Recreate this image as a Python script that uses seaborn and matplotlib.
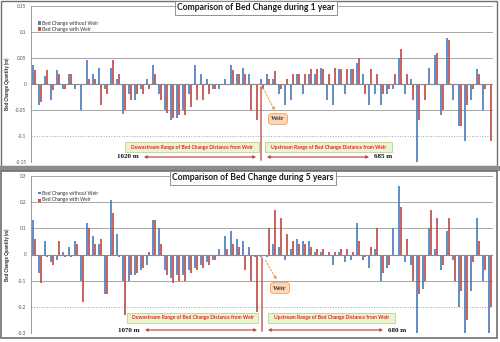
import numpy as np
import pandas as pd
import matplotlib
matplotlib.use("Agg")
import matplotlib.pyplot as plt
import seaborn as sns
from matplotlib.patches import Rectangle, FancyArrowPatch

# ---------------- data ----------------
series_names = ["Bed Change without Weir", "Bed Change with Weir"]

top_without = [0.036, -0.04, 0.015, -0.03, 0.026, -0.01, 0.02, -0.01, -0.05, 0.047,
               0.02, 0.03, -0.01, 0.03, 0.01, -0.057, -0.02, -0.03, -0.01, 0.01,
               0.036, -0.02, -0.05, -0.07, -0.065, -0.05, -0.02, 0.036, 0.02, 0.01,
               -0.01, -0.01, 0.01, 0.036, 0.02, 0.03, 0.02, 0.0, 0.01, 0.02,
               0.01, -0.02, -0.04, -0.03, 0.02, -0.02, 0.02, 0.02, 0.03, -0.03,
               -0.04, 0.028, -0.02, 0.028, 0.04, 0.02, -0.04, -0.02, -0.04, -0.02,
               -0.01, 0.05, -0.02, 0.01, -0.15, 0.0, 0.03, 0.055, -0.06, 0.088,
               -0.03, -0.08, -0.11, -0.03, 0.028, -0.05, 0.0]
top_with = [0.026, -0.035, 0.026, -0.011, 0.02, -0.01, 0.02, 0.0, 0.0, 0.01,
            0.01, -0.04, -0.02, 0.047, 0.02, -0.05, -0.03, -0.02, -0.02, -0.01,
            0.02, -0.03, -0.055, -0.065, -0.06, -0.06, -0.045, -0.03, -0.03, -0.02,
            -0.01, 0.0, 0.0, 0.026, 0.02, 0.02, -0.05, -0.07, -0.01, 0.01,
            0.025, -0.01, 0.01, 0.02, 0.02, 0.02, 0.028, 0.028, 0.028, 0.02,
            0.03, 0.028, 0.028, 0.028, 0.05, -0.02, 0.028, 0.02, -0.02, -0.01,
            0.02, 0.068, 0.02, -0.03, -0.07, -0.03, 0.0, 0.06, -0.05, 0.085,
            0.0, -0.08, -0.04, -0.01, 0.02, -0.01, -0.11]

bot_without = [0.13, -0.07, 0.05, -0.03, -0.02, 0.01, 0.03, 0.05, -0.1, 0.12,
               0.07, 0.04, -0.15, 0.21, 0.08, -0.1, -0.1, -0.08, -0.06, -0.04,
               0.13, 0.1, -0.06, -0.09, -0.08, -0.08, -0.06, -0.05, -0.04, -0.03,
               -0.02, 0.02, 0.07, 0.09, 0.06, 0.05, 0.03, -0.01, -0.01, -0.01,
               0.04, 0.03, -0.02, 0.02, 0.06, 0.05, 0.05, 0.01, 0.01, 0.0,
               -0.04, 0.01, -0.03, -0.02, 0.12, -0.02, -0.05, 0.02, -0.1, -0.05,
               0.1, 0.26, -0.03, -0.04, -0.3, -0.13, 0.1, 0.02, -0.06, 0.09,
               -0.02, -0.2, -0.3, -0.14, 0.14, -0.1, -0.3]
bot_with = [0.058, -0.11, -0.01, -0.04, 0.05, -0.01, -0.01, 0.04, -0.18, 0.1,
            0.04, 0.06, -0.15, 0.16, -0.01, -0.23, -0.08, -0.07, -0.05, 0.01,
            0.13, 0.04, -0.08, -0.11, -0.1, -0.1, -0.07, -0.06, -0.05, -0.04,
            -0.02, 0.0, 0.02, 0.04, 0.03, -0.06, -0.1, -0.22, 0.0, 0.1,
            0.17, 0.14, 0.08, 0.05, 0.04, 0.04, 0.03, 0.02, 0.02, 0.01,
            0.01, 0.02, 0.02, 0.01, 0.05, -0.01, 0.03, 0.1, -0.07, -0.04,
            0.0, 0.18, 0.06, -0.1, -0.15, -0.1, 0.17, 0.14, -0.04, 0.14,
            -0.1, -0.14, -0.25, -0.03, 0.05, -0.06, -0.2]

top_ticks = [-0.15, -0.1, -0.05, 0, 0.05, 0.1, 0.15]
top_ticklabels = ["-0.15", "-0.1", "-0.05", "0", "0.05", "0.1", "0.15"]
bot_ticks = [-0.3, -0.2, -0.1, 0, 0.1, 0.2, 0.3]
bot_ticklabels = ["-0.3", "-0.2", "-0.1", "0", "0.1", "0.2", "0.3"]

BLUE = "#4f81bd"
RED = "#c0504d"

sns.set_theme(style="white")
plt.rcParams["font.family"] = ["Lato", "DejaVu Sans"]

W, H = 500, 342
fig = plt.figure(figsize=(5, 3.42), dpi=100)
fig.patch.set_facecolor("white")


def fx(px):
    return px / W


def fy(py):
    return 1 - py / H


def P(px, py):
    return (fx(px), fy(py))


# panel frames
fig.add_artist(Rectangle(P(1, 166), fx(497) - fx(1), fy(1) - fy(166), transform=fig.transFigure,
                         fill=False, ec="#707070", lw=1.0, zorder=0))
fig.add_artist(Rectangle(P(0, 171), 1.0, fy(166) - fy(171), transform=fig.transFigure,
                         fc="#8c8c8c", ec="none", zorder=0))
fig.add_artist(Rectangle(P(1, 338), fx(497) - fx(1), fy(171) - fy(338), transform=fig.transFigure,
                         fill=False, ec="#707070", lw=1.2, zorder=0))


def panel(top_px, bot_px, a, b, ticks, labels, lim):
    ax = fig.add_axes([fx(31), fy(bot_px), fx(493) - fx(31), fy(top_px) - fy(bot_px)])
    n = len(a)
    df = pd.DataFrame({
        "pos": list(range(n)) * 2,
        "val": list(a) + list(b),
        "series": [series_names[0]] * n + [series_names[1]] * n,
    })
    sns.barplot(data=df, x="pos", y="val", hue="series", palette=[BLUE, RED],
                ax=ax, width=0.72, legend=False, saturation=1, errorbar=None,
                edgecolor="none", linewidth=0, alpha=0.88)
    ax.set_xlim(-0.5, n - 0.5)
    ax.set_ylim(-lim, lim)
    ax.set_yticks(ticks)
    ax.set_yticklabels(labels)
    ax.set_xticks([])
    ax.set_xlabel("")
    ax.set_ylabel("Bed Change Quantity (m)", fontsize=3.4, fontweight="bold", labelpad=3)
    ax.tick_params(axis="y", labelsize=3.3, colors="#505050", length=1.5, width=0.5, pad=2)
    for i, t in enumerate(ticks):
        if t == 0:
            continue
        ls = ":" if i == 1 else "-"
        ax.axhline(t, color="#a6a6a6", lw=0.7, ls=ls, zorder=0)
    ax.axhline(0, color="#8a8a8a", lw=0.8, zorder=3)
    for s in ["top", "right", "bottom"]:
        ax.spines[s].set_visible(False)
    ax.spines["left"].set_color("#8a8a8a")
    ax.spines["left"].set_linewidth(0.6)
    ax.patch.set_alpha(0)
    return ax


ax1 = panel(6, 162, top_without, top_with, top_ticks, top_ticklabels, 0.15)
ax2 = panel(176, 333, bot_without, bot_with, bot_ticks, bot_ticklabels, 0.3)
ax1.yaxis.set_label_coords(-0.045, 0.5)
ax2.yaxis.set_label_coords(-0.045, 0.5)


def legend_at(y1, y2):
    for yy, c, lab in [(y1, BLUE, series_names[0]), (y2, RED, series_names[1])]:
        fig.add_artist(Rectangle(P(37.5, yy + 1.5), fx(3), fy(yy - 1.5) - fy(yy + 1.5),
                                 transform=fig.transFigure, fc=c, ec="none"))
        fig.text(fx(42), fy(yy), lab, fontsize=3.5, color="#303030", va="center", ha="left")


def title_at(x, y, s):
    fig.text(fx(x), fy(y), s, fontsize=6.2, fontweight="bold", ha="center", va="center",
             color="#1a1a1a",
             bbox=dict(boxstyle="square,pad=0.25", fc="white", ec="#808080", lw=0.6))


def green_box(x0, y0, x1, y1, s):
    fig.add_artist(Rectangle(P(x0, y1), fx(x1) - fx(x0), fy(y0) - fy(y1),
                             transform=fig.transFigure, fc="#eaf4d3", ec="#b8d68f", lw=0.6, zorder=5))
    fig.text(fx((x0 + x1) / 2), fy((y0 + y1) / 2), s, fontsize=3.6, fontweight="bold",
             color="#ff1a1a", ha="center", va="center", zorder=6)


def range_arrow(x0, x1, y):
    fig.add_artist(FancyArrowPatch(P(x0, y), P(x1, y), transform=fig.transFigure,
                                   arrowstyle="<|-|>", mutation_scale=4, color="#c0504d", lw=0.9))


def weir(xl, y0, y1, bx, by, ax0, ay0):
    fig.add_artist(FancyArrowPatch(P(xl, y0), P(xl, y1), transform=fig.transFigure,
                                   arrowstyle="-", color="#c0504d", lw=1.0, zorder=4))
    fig.add_artist(FancyArrowPatch(P(ax0, ay0), P(bx - 2, by - 6), transform=fig.transFigure,
                                   arrowstyle="-|>", mutation_scale=4, color="#f79646",
                                   lw=0.7, linestyle=(0, (2, 1.5)), zorder=6))
    fig.text(fx(bx), fy(by), "Weir", fontsize=4.6, fontfamily=["Liberation Serif", "DejaVu Serif"],
             fontweight="bold", ha="center", va="center", color="#3a3a3a", zorder=7,
             bbox=dict(boxstyle="round,pad=0.45", fc="#fcd5b4", ec="#f79646", lw=0.5))


def dist_label(x, y, s, ha):
    fig.text(fx(x), fy(y), s, fontsize=5, fontweight="bold", ha=ha, va="center",
             fontfamily=["Liberation Serif", "DejaVu Serif"], color="#111111")


# top panel annotations
title_at(256, 8, "Comparison of Bed Change during 1 year")
legend_at(23, 29)
green_box(125, 142, 259, 152, "Downstream Range of Bed Change Distance from Weir")
green_box(265, 142, 392, 152, "Upstream Range of Bed Change Distance from Weir")
range_arrow(141, 259, 157)
range_arrow(264, 372, 157)
dist_label(139, 157, "1020 m", "right")
dist_label(374, 157, "685 m", "left")
weir(261, 84, 163, 278, 119, 262, 86)

# bottom panel annotations
title_at(253, 178, "Comparison of Bed Change during 5 years")
legend_at(193, 200)
green_box(127, 313, 258, 323, "Downstream Range of Bed Change Distance from Weir")
green_box(268, 313, 395, 323, "Upstream Range of Bed Change Distance from Weir")
range_arrow(142, 260, 330)
range_arrow(265, 386, 330)
dist_label(140, 330, "1070 m", "right")
dist_label(388, 330, "680 m", "left")
weir(262, 255, 334, 280, 288, 264, 258)

fig.savefig("out.png", dpi=100)
